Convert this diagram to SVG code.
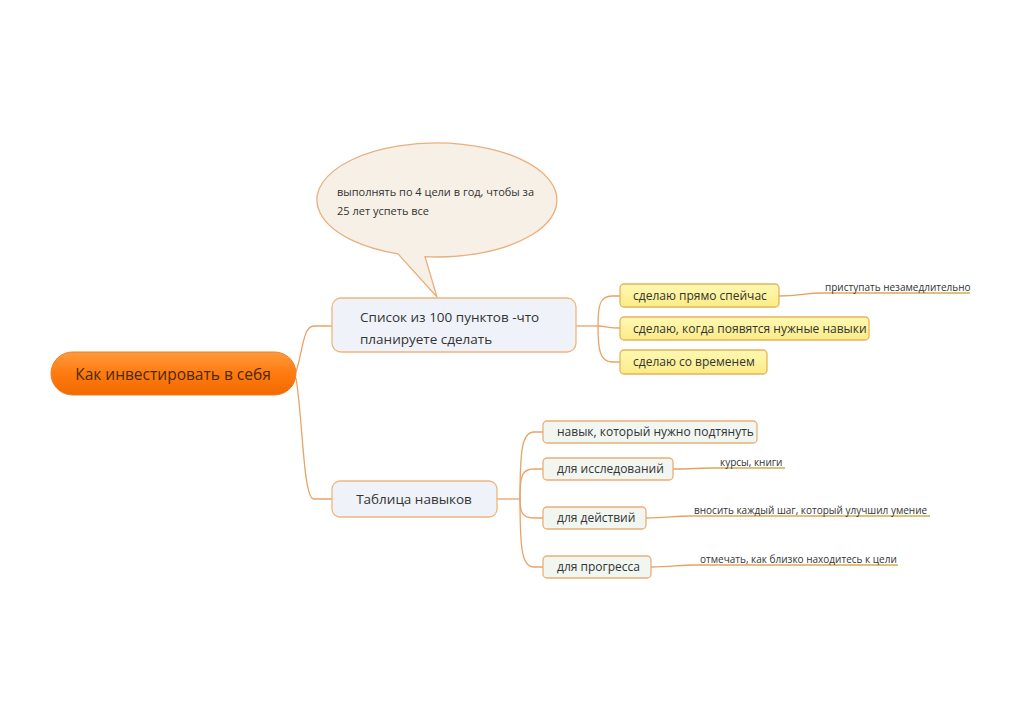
<svg xmlns="http://www.w3.org/2000/svg" width="1024" height="723" viewBox="0 0 1024 723">
<defs>
<linearGradient id="rootG" x1="0" y1="0" x2="0" y2="1">
<stop offset="0" stop-color="#ff9a3c"/>
<stop offset="0.5" stop-color="#ff7a10"/>
<stop offset="1" stop-color="#f06a00"/>
</linearGradient>
<linearGradient id="yelG" x1="0" y1="0" x2="0" y2="1">
<stop offset="0" stop-color="#fff8b4"/>
<stop offset="1" stop-color="#fbec86"/>
</linearGradient>
<linearGradient id="lblG" x1="0" y1="0" x2="1" y2="0">
<stop offset="0" stop-color="#eaa062"/>
<stop offset="1" stop-color="#c9b24a"/>
</linearGradient>
</defs>
<style>
text{font-family:"Open Sans","Noto Sans","DejaVu Sans",sans-serif;fill:#333}
.conn{fill:none;stroke:#eaa366;stroke-width:1.3}
.lbl{fill:none;stroke:url(#lblG);stroke-width:1.3}
.main{fill:#eff3f9;stroke:#efb57c;stroke-width:1.3}
.yel{fill:url(#yelG);stroke:#e5b45a;stroke-width:1.3}
.grn{fill:#f1f6f1;stroke:#ecae76;stroke-width:1.3}
.t12{font-size:12px}
.t10{font-size:10px}
</style>
<rect width="1024" height="723" fill="#ffffff"/>
<g id="connectors">
<path class="conn" d="M296,372 C303,350 303,326 314,326 L332,326"/>
<path class="conn" d="M296,378 C303,420 303,499 314,499 L332,499"/>
<path class="conn" d="M576,326 L598,326"/>
<path class="conn" d="M598,326 C598,305 600,296 612,296 L620,296"/>
<path class="conn" d="M598,326 C605,326 608,328 620,328"/>
<path class="conn" d="M598,326 C598,350 600,362 612,362 L620,362"/>
<path class="conn" d="M497,499 L520,499"/>
<path class="conn" d="M520,499 C520,450 522,432 534,432 L543,432"/>
<path class="conn" d="M520,499 C520,475 522,469 534,469 L543,469"/>
<path class="conn" d="M520,499 C520,512 522,518 534,518 L543,518"/>
<path class="conn" d="M520,499 C520,550 522,567 534,567 L543,567"/>
<path class="lbl" d="M779,296 C800,296 805,293 822,293 L970,293"/>
<path class="lbl" d="M673,469 C690,469 700,468 715,468 L785,468"/>
<path class="lbl" d="M646,518 C665,518 675,516 690,516 L930,516"/>
<path class="lbl" d="M651,567 C670,567 680,565 695,565 L898,565"/>
</g>
<g id="root">
<rect x="51" y="352" width="245" height="43" rx="21.5" fill="url(#rootG)" stroke="#f07a20" stroke-width="1"/>
<text x="173" y="380" font-size="15.5" text-anchor="middle" style="fill:#4a2a10">Как инвестировать в себя</text>
</g>
<g id="callout">
<path d="M398,253.9 A120,57 0 1 1 425,256.7 L437,297 Z" fill="#f6f0e6" stroke="#e9b07e" stroke-width="1.3"/>
<text x="337" y="196" font-size="11">выполнять по 4 цели в год, чтобы за</text>
<text x="337" y="215" font-size="11">25 лет успеть все</text>
</g>
<g id="node-list">
<rect class="main" x="332" y="298" width="244" height="54" rx="9"/>
<text x="360" y="322" font-size="13.5">Список из 100 пунктов -что</text>
<text x="360" y="344" font-size="13.5">планируете сделать</text>
</g>
<g id="node-table">
<rect class="main" x="332" y="481" width="165" height="36" rx="8"/>
<text x="414" y="504" font-size="13.5" text-anchor="middle">Таблица навыков</text>
</g>
<g id="y1">
<rect class="yel" x="620" y="284" width="159" height="23" rx="4"/>
<text class="t12" x="633" y="300">сделаю прямо спейчас</text>
</g>
<g id="y2">
<rect class="yel" x="620" y="317" width="249" height="23" rx="4"/>
<text class="t12" x="633" y="333">сделаю, когда появятся нужные навыки</text>
</g>
<g id="y3">
<rect class="yel" x="620" y="350" width="147" height="24" rx="4"/>
<text class="t12" x="633" y="366">сделаю со временем</text>
</g>
<g id="g1">
<rect class="grn" x="543" y="421" width="214" height="22" rx="4"/>
<text class="t12" x="557" y="436">навык, который нужно подтянуть</text>
</g>
<g id="g2">
<rect class="grn" x="543" y="458" width="130" height="22" rx="4"/>
<text class="t12" x="557" y="473">для исследований</text>
</g>
<g id="g3">
<rect class="grn" x="543" y="507" width="103" height="22" rx="4"/>
<text class="t12" x="557" y="522">для действий</text>
</g>
<g id="g4">
<rect class="grn" x="543" y="556" width="108" height="22" rx="4"/>
<text class="t12" x="557" y="571">для прогресса</text>
</g>
<g id="labels">
<text class="t10" x="825" y="291">приступать незамедлительно</text>
<text class="t10" x="720" y="466">курсы, книги</text>
<text class="t10" x="694" y="514">вносить каждый шаг, который улучшил умение</text>
<text class="t10" x="700" y="563">отмечать, как близко находитесь к цели</text>
</g>
</svg>
